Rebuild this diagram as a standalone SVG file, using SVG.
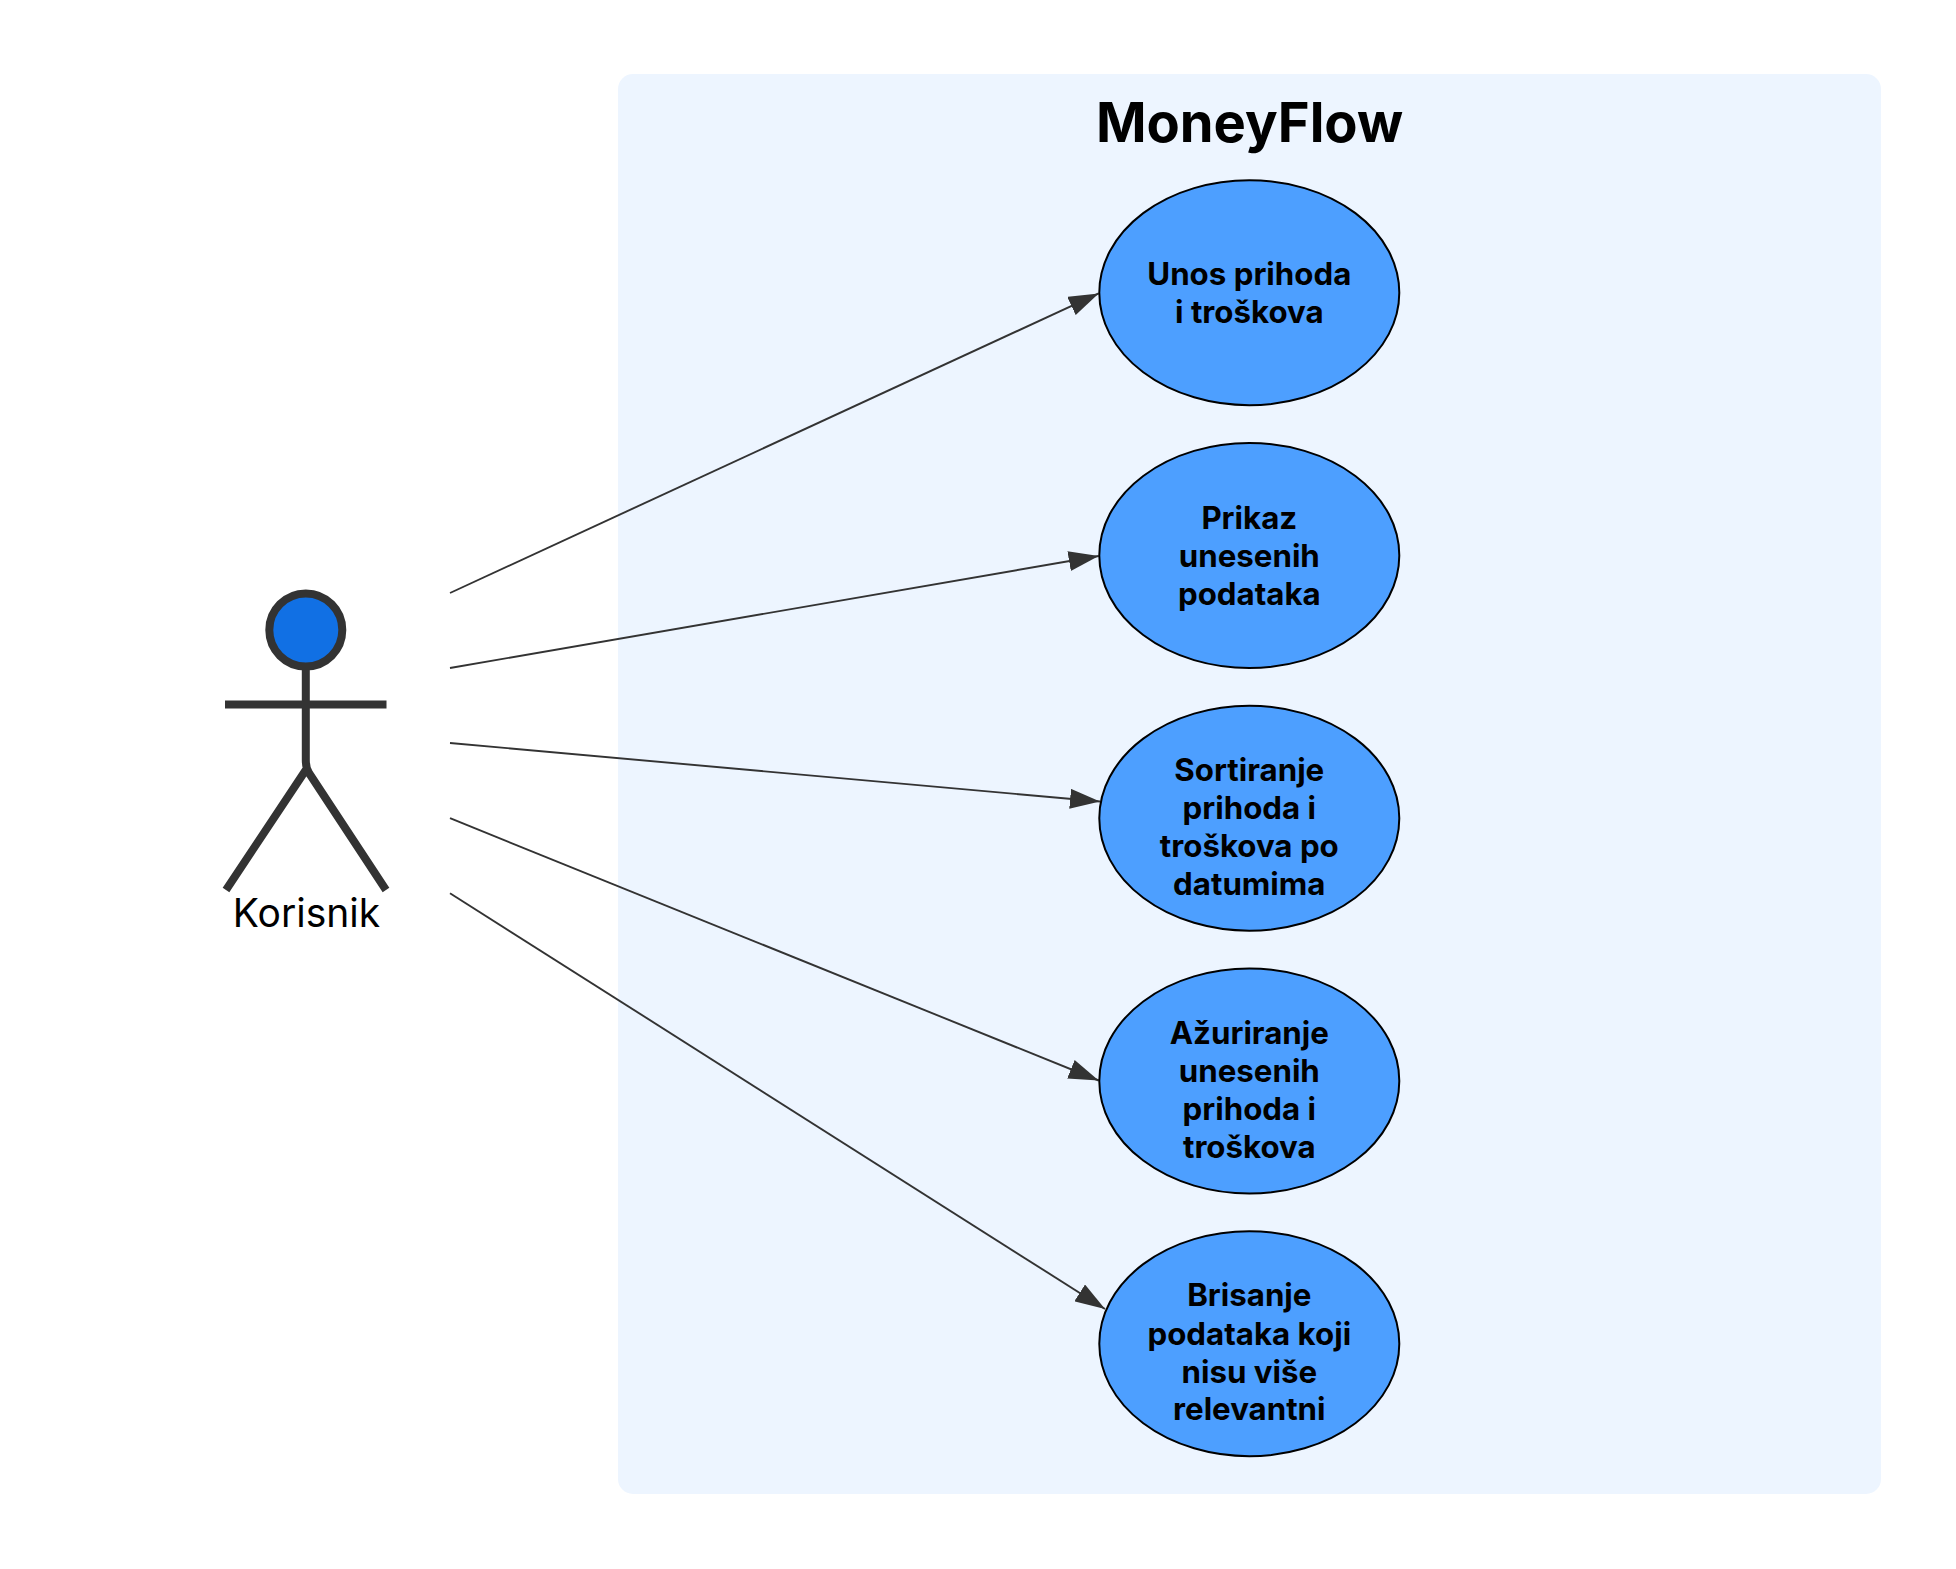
<svg xmlns="http://www.w3.org/2000/svg" width="1956" height="1569" viewBox="0 0 1956 1569">
<style>
text{font-family:Inter,"Noto Sans",sans-serif;fill:#000}
.uc ellipse{fill:#4d9fff;stroke:#000;stroke-width:2}
.uc text{font-size:31.25px;font-weight:700;text-anchor:middle}
.edge{stroke:#333;stroke-width:1.9;fill:none;marker-end:url(#arrow)}
.stick{stroke:#333;stroke-width:8;fill:none}
</style>
<defs>
<marker id="arrow" markerUnits="userSpaceOnUse" markerWidth="30" markerHeight="20" refX="30" refY="10" orient="auto" viewBox="0 0 30 20"><path d="M0 0L30 10L0 20z" fill="#333"/></marker>
</defs>
<rect width="1956" height="1569" fill="#fff"/>
<g id="system">
<rect x="618" y="74" width="1263" height="1420" rx="15" ry="15" fill="#edf5ff"/>
<text x="1249.500" y="141.500" font-size="54.300" font-weight="700" text-anchor="middle">MoneyFlow</text>
</g>
<g id="connectors">
<path class="edge" d="M450 593L1098.700 293.400"/>
<path class="edge" d="M450 668L1098.700 556"/>
<path class="edge" d="M450 743L1100 801.500"/>
<path class="edge" d="M450 818.200L1098.700 1080.500"/>
<path class="edge" d="M450 893.200L1105 1309"/>
</g>
<g id="actor-korisnik">
<circle class="stick" cx="305.800" cy="630" r="36.500" style="fill:#1170e4"/>
<path class="stick" d="M305.800 670V760Q305.800 768 309 773L386 890M305.800 770L226 890M225 704.500H386.500"/>
<text x="306.500" y="926.500" font-size="39" text-anchor="middle">Korisnik</text>
</g>
<g id="uc1" class="uc"><ellipse cx="1249.300" cy="292.700" rx="150" ry="112.500"/><text x="1249.300" y="284.800">Unos prihoda</text><text x="1249.300" y="322.900">i troškova</text></g>
<g id="uc2" class="uc"><ellipse cx="1249.300" cy="555.500" rx="150" ry="112.500"/><text x="1249.300" y="528.500">Prikaz</text><text x="1249.300" y="566.500">unesenih</text><text x="1249.300" y="604.600">podataka</text></g>
<g id="uc3" class="uc"><ellipse cx="1249.300" cy="818.200" rx="150" ry="112.500"/><text x="1249.300" y="780.800">Sortiranje</text><text x="1249.300" y="818.900">prihoda i</text><text x="1249.300" y="857">troškova po</text><text x="1249.300" y="895">datumima</text></g>
<g id="uc4" class="uc"><ellipse cx="1249.300" cy="1081" rx="150" ry="112.500"/><text x="1249.300" y="1044">Ažuriranje</text><text x="1249.300" y="1082">unesenih</text><text x="1249.300" y="1120">prihoda i</text><text x="1249.300" y="1158">troškova</text></g>
<g id="uc5" class="uc"><ellipse cx="1249.300" cy="1343.700" rx="150" ry="112.500"/><text x="1249.300" y="1306">Brisanje</text><text x="1249.300" y="1344.500">podataka koji</text><text x="1249.300" y="1382.500">nisu više</text><text x="1249.300" y="1420.300">relevantni</text></g>
</svg>
